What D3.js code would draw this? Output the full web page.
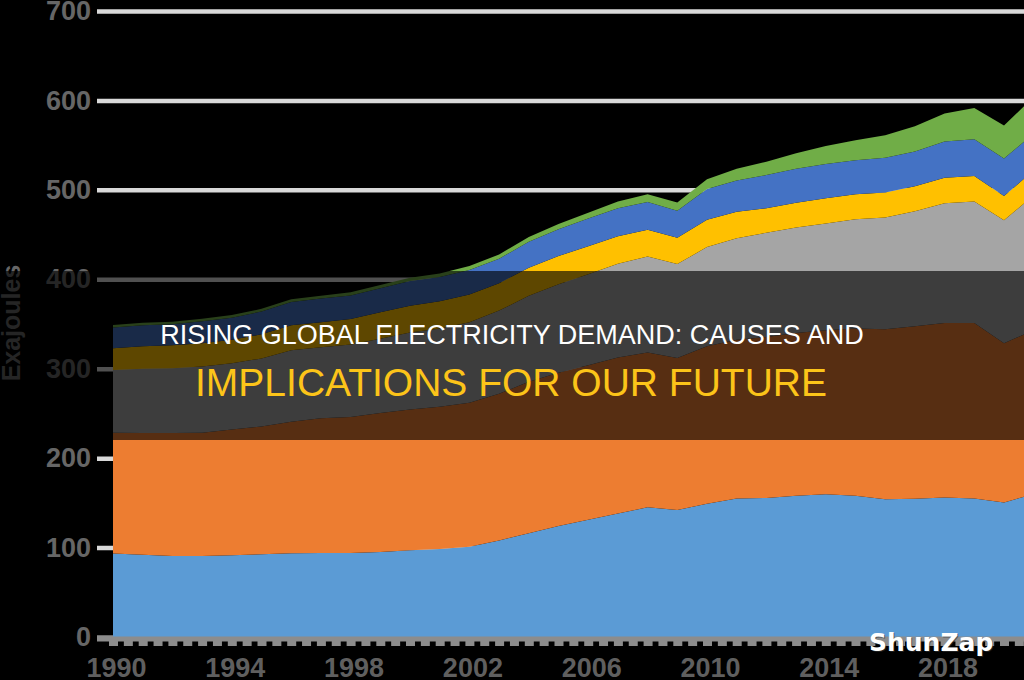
<!DOCTYPE html>
<html>
<head>
<meta charset="utf-8">
<script src="https://cdn.jsdelivr.net/npm/d3@7"></script>
<style>
  body { margin: 0; background: #000; overflow: hidden; }
  svg { display: block; }
</style>
</head>
<body>
<div id="chart"></div>
<script>
// Primary energy by source, exajoules
var years = [1990, 1991, 1992, 1993, 1994, 1995, 1996, 1997, 1998, 1999,
             2000, 2001, 2002, 2003, 2004, 2005, 2006, 2007, 2008, 2009,
             2010, 2011, 2012, 2013, 2014, 2015, 2016, 2017, 2018, 2019,
             2020, 2021];
var coal = [93.5, 92, 90.6, 90.5, 91.5, 92.5, 93.6, 94, 94, 95,
            97, 98.5, 101, 108, 116, 124, 131, 138, 145, 142,
            149, 155, 155.5, 158, 159.5, 158, 154, 154.5, 156, 155,
            150.5, 160];
var oil = [135, 136, 137.5, 138, 140.5, 143, 147, 150.5, 152, 155.5,
           157.5, 159, 161, 164, 169.5, 171.5, 173, 174.5, 173, 170,
           176, 177.5, 180, 182, 183.5, 187, 190, 193, 195, 196,
           178, 183];
var gas = [70, 72, 72.5, 74, 74, 76, 80, 79.5, 81, 83,
           86, 87.5, 90, 93, 96, 99, 101.5, 105, 107.5, 105,
           111, 113.5, 116.5, 118, 119.5, 122, 125, 128.5, 134, 136,
           137.5, 151];
var nuclear = [24.5, 25, 25.5, 26, 26.5, 27, 28, 28, 28.5, 29.5,
               30, 30.5, 31, 30.5, 31.5, 31.5, 31.5, 30.5, 30, 29.5,
               30.5, 29.5, 27.5, 27.5, 28, 28, 28, 28, 28.5, 28.5,
               27, 28];
var hydro = [23, 23.5, 23.5, 24.5, 24.5, 25.5, 26, 26.5, 26.5, 27,
             27.5, 27, 27.5, 27.5, 29, 30, 31, 31.5, 31, 30,
             34.5, 35, 37, 38, 38.5, 38, 39, 39, 40.5, 41,
             42, 41];
var renewables = [3, 3, 3, 3, 3, 3, 3, 3.2, 3.4, 3.6,
                  3.8, 4, 4.3, 4.7, 5.2, 5.8, 6.5, 7.5, 8.5, 9.5,
                  11, 13, 15, 17.5, 20, 22.5, 25, 28, 31.5, 35,
                  37, 41];

var seriesNames = ["coal", "oil", "gas", "nuclear", "hydro", "renewables"];
var seriesColors = ["#5b9bd5", "#ed7d31", "#a5a5a5", "#ffc000", "#4472c4", "#70ad47"];
var yTicks = [0, 100, 200, 300, 400, 500, 600, 700];
var xTicks = [1990, 1994, 1998, 2002, 2006, 2010, 2014, 2018];
var yTitle = "Exajoules";
var titleLine1 = "RISING GLOBAL ELECTRICITY DEMAND: CAUSES AND";
var titleLine2 = "IMPLICATIONS FOR OUR FUTURE";

var width = 1024, height = 680;

var svg = d3.select("#chart")
  .append("svg")
    .attr("width", width)
    .attr("height", height)
    .style("background", "#000");

var x = d3.scaleLinear().domain([1990, 2020]).range([113, 1004]);
var y = d3.scaleLinear().domain([0, 700]).range([637, 11]);

var rows = years.map(function(yr, i) {
  return {year: yr, coal: coal[i], oil: oil[i], gas: gas[i],
          nuclear: nuclear[i], hydro: hydro[i], renewables: renewables[i]};
});
var layers = d3.stack().keys(seriesNames)(rows);

// gridlines + y labels (axis drawn from the right edge so lines run left to 97)
var yAxis = svg.append("g")
  .attr("transform", "translate(" + width + ",0)")
  .call(d3.axisLeft(y).tickValues(yTicks).tickSize(width - 97).tickPadding(6));
yAxis.select(".domain").remove();
yAxis.selectAll(".tick line")
  .attr("stroke", function(d) { return d === 0 ? "#8c8c8c" : "#d9d9d9"; })
  .attr("stroke-width", 4.5);
yAxis.selectAll(".tick text")
  .attr("fill", "#666")
  .style("font", "bold 27px 'Liberation Sans', Arial, sans-serif");

// stacked areas
var area = d3.area()
  .x(function(d) { return x(d.data.year); })
  .y0(function(d) { return y(d[0]); })
  .y1(function(d) { return y(d[1]); });

svg.append("g").selectAll("path")
  .data(layers)
  .enter()
  .append("path")
    .attr("d", area)
    .attr("fill", function(d, i) { return seriesColors[i]; });

// bottom axis: minor ticks every half year, labels every 4 years
var halfYears = d3.range(1990, 2022, 0.5);
var minor = svg.append("g")
  .attr("transform", "translate(0,638)")
  .call(d3.axisBottom(x).tickValues(halfYears).tickSize(8).tickFormat(""));
minor.select(".domain").remove();
minor.selectAll(".tick line").attr("stroke", "#8c8c8c").attr("stroke-width", 9);
svg.append("line")
  .attr("x1", 97).attr("x2", width)
  .attr("y1", y(0) + 2).attr("y2", y(0) + 2)
  .attr("stroke", "#8c8c8c").attr("stroke-width", 5);

var xAxis = svg.append("g")
  .attr("transform", "translate(3,658)")
  .call(d3.axisBottom(x).tickValues(xTicks).tickSize(0).tickPadding(0)
    .tickFormat(d3.format("d")));
xAxis.select(".domain").remove();
xAxis.selectAll(".tick text")
  .attr("fill", "#5f5f5f")
  .attr("dy", "0.72em")
  .style("font", "bold 27px 'Liberation Sans', Arial, sans-serif");

// y axis title
svg.append("text")
  .attr("transform", "translate(20,323) rotate(-90)")
  .attr("text-anchor", "middle")
  .attr("fill", "#666")
  .style("font", "bold 25px 'Liberation Sans', Arial, sans-serif")
  .text(yTitle);

// dark title band
svg.append("rect")
  .attr("x", 0).attr("y", 271)
  .attr("width", width).attr("height", 169)
  .attr("fill", "#000").attr("fill-opacity", 0.63);

svg.append("text")
  .attr("x", 512).attr("y", 344)
  .attr("text-anchor", "middle")
  .attr("fill", "#ffffff")
  .style("font", "27px 'Liberation Sans', Arial, sans-serif")
  .text(titleLine1);

svg.append("text")
  .attr("x", 511).attr("y", 396)
  .attr("text-anchor", "middle")
  .attr("fill", "#fcc419")
  .style("font", "39px 'Liberation Sans', Arial, sans-serif")
  .text(titleLine2);

// watermark
svg.append("text")
  .attr("x", 870).attr("y", 652)
  .attr("fill", "#333")
  .attr("opacity", 0.6)
  .style("font", "bold 25px 'DejaVu Sans', sans-serif")
  .text("ShunZap");
svg.append("text")
  .attr("x", 869).attr("y", 651)
  .attr("fill", "#ffffff")
  .style("font", "bold 25px 'DejaVu Sans', sans-serif")
  .text("ShunZap");
</script>
</body>
</html>
